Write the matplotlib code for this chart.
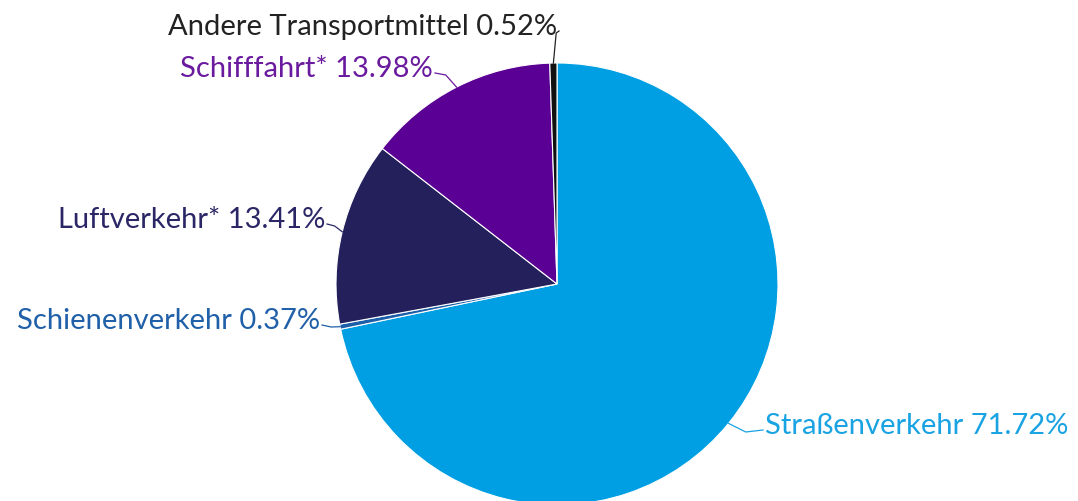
import numpy as np
import matplotlib.pyplot as plt

labels = ['Straßenverkehr', 'Schienenverkehr', 'Luftverkehr*', 'Schifffahrt*', 'Andere Transportmittel']
shares = [71.72, 0.37, 13.41, 13.98, 0.52]
colors = ['#009fe3', '#1d5ea8', '#23205c', '#5b0094', '#111111']
text_colors = ['#1aa3e2', '#2060a8', '#2b2766', '#6a1a9e', '#222222']

# label text anchor (pixels from top-left), alignment
label_pos = [(765, 426, 'left'), (320, 321, 'right'), (325, 220, 'right'),
             (433, 69, 'right'), (557, 27, 'right')]

W, H = 1078, 502
fig = plt.figure(figsize=(W / 100, H / 100), dpi=100)
ax = fig.add_axes([0, 0, 1, 1])

cx, cy, r = 557, H - 285, 221
wedges, _ = ax.pie(shares, colors=colors, startangle=90, counterclock=False,
                   center=(cx, cy), radius=r, frame=True,
                   wedgeprops=dict(edgecolor='white', linewidth=0.8))
ax.set_xlim(0, W)
ax.set_ylim(0, H)
ax.axis('off')

for w, lab, val, tc, (tx, ty, ha) in zip(wedges, labels, shares, text_colors, label_pos):
    ang = np.deg2rad((w.theta1 + w.theta2) / 2)
    px, py = cx + r * np.cos(ang), cy + r * np.sin(ang)
    ty = H - ty
    ax.text(tx, ty, f'{lab} {val:.2f}%', color=tc, fontsize=21, ha=ha, va='center',
            family=['Lato', 'DejaVu Sans'])
    sx = tx - 2 if ha == 'left' else tx + 2
    ax.plot([sx, (sx + px) / 2, px], [ty - 5, ty - 7, py], color=tc, lw=0.9)

fig.savefig('out.png', dpi=100)
